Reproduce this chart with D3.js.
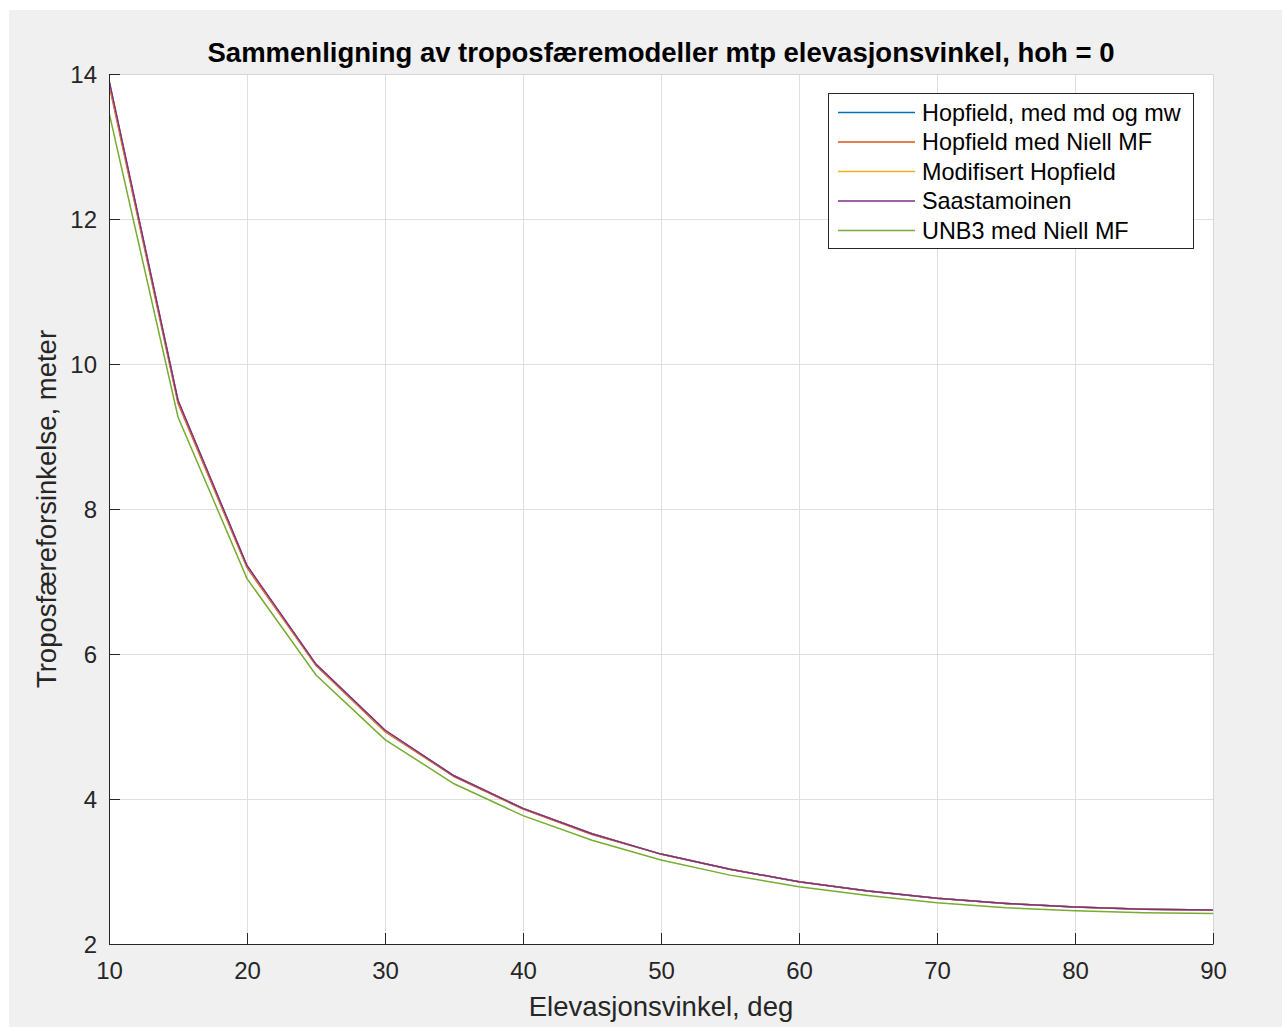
<!DOCTYPE html>
<html>
<head>
<meta charset="utf-8">
<script src="https://cdn.jsdelivr.net/npm/d3@7"></script>
<style>
    body { margin: 0; background: #ffffff; }
    svg { display: block; font-family: "Liberation Sans", Arial, Helvetica, sans-serif; }
</style>
</head>
<body>
<div id="chart"></div>
<script>
let width = 1282;
let height = 1027;

let margin = { left: 109, right: 1213, top: 74, bottom: 944 };

// elevation angles, deg
let elevation = [10, 15, 20, 25, 30, 35, 40, 45, 50, 55, 60, 65, 70, 75, 80, 85, 90];

// delays, meter
let hopfieldMdMw = [13.90, 9.49, 7.21, 5.85, 4.94, 4.32, 3.87, 3.52, 3.24, 3.03, 2.86, 2.73, 2.63, 2.56, 2.51, 2.48, 2.47];
let hopfieldNiell = [13.86, 9.46, 7.19, 5.84, 4.93, 4.31, 3.86, 3.51, 3.24, 3.03, 2.86, 2.73, 2.63, 2.56, 2.51, 2.48, 2.47];
let modHopfield = [13.90, 9.49, 7.21, 5.85, 4.94, 4.32, 3.87, 3.52, 3.24, 3.03, 2.86, 2.73, 2.63, 2.56, 2.51, 2.48, 2.47];
let saastamoinen = [13.92, 9.50, 7.22, 5.86, 4.95, 4.32, 3.87, 3.52, 3.24, 3.03, 2.86, 2.73, 2.63, 2.56, 2.51, 2.48, 2.47];
let unb3Niell = [13.47, 9.27, 7.04, 5.71, 4.82, 4.21, 3.77, 3.43, 3.16, 2.95, 2.79, 2.67, 2.57, 2.50, 2.46, 2.43, 2.42];

let seriesNames = ["Hopfield, med md og mw", "Hopfield med Niell MF", "Modifisert Hopfield", "Saastamoinen", "UNB3 med Niell MF"];
let seriesValues = [hopfieldMdMw, hopfieldNiell, modHopfield, saastamoinen, unb3Niell];
let seriesColors = ["#0072BD", "#D95319", "#EDB120", "#7E2F8E", "#77AC30"];

let xTicks = [10, 20, 30, 40, 50, 60, 70, 80, 90];
let yTicks = [2, 4, 6, 8, 10, 12, 14];

let svg = d3.select("#chart")
    .append("svg")
    .attr("width", width)
    .attr("height", height);

// figure background
svg.append("rect")
    .attr("x", 9)
    .attr("y", 10)
    .attr("width", width - 9)
    .attr("height", height - 10)
    .attr("fill", "#f0f0f0");

let x = d3.scaleLinear().domain([10, 90]).range([margin.left, margin.right]);
let y = d3.scaleLinear().domain([2, 14]).range([margin.bottom, margin.top]);

// plot area
svg.append("rect")
    .attr("x", margin.left)
    .attr("y", margin.top)
    .attr("width", margin.right - margin.left)
    .attr("height", margin.bottom - margin.top)
    .attr("fill", "#ffffff");

// grid
svg.append("g")
    .attr("transform", "translate(0," + margin.bottom + ")")
    .call(d3.axisBottom(x).tickValues(xTicks).tickSize(-(margin.bottom - margin.top)).tickFormat(""))
    .call(g => g.select(".domain").remove())
    .call(g => g.selectAll("line").attr("stroke", "#dfdfdf"));

svg.append("g")
    .attr("transform", "translate(" + margin.left + ",0)")
    .call(d3.axisLeft(y).tickValues(yTicks).tickSize(-(margin.right - margin.left)).tickFormat(""))
    .call(g => g.select(".domain").remove())
    .call(g => g.selectAll("line").attr("stroke", "#dfdfdf"));

// top and right box edges
svg.append("path")
    .attr("d", "M" + margin.left + "," + (margin.top + 0.5) + "H" + (margin.right + 0.5) + "V" + margin.bottom)
    .attr("fill", "none")
    .attr("stroke", "#d6d6d6");

svg.append("clipPath")
    .attr("id", "clip")
    .append("rect")
    .attr("x", margin.left)
    .attr("y", margin.top)
    .attr("width", margin.right - margin.left)
    .attr("height", margin.bottom - margin.top);

let line = d3.line()
    .x((d, i) => x(elevation[i]))
    .y(d => y(d));

let lines = svg.append("g").attr("clip-path", "url(#clip)");

seriesValues.forEach(function (values, i) {
    lines.append("path")
        .datum(values)
        .attr("d", line)
        .attr("fill", "none")
        .attr("stroke", seriesColors[i])
        .attr("stroke-width", 1.5);
});

// axes
let xAxis = svg.append("g")
    .attr("transform", "translate(0," + margin.bottom + ")")
    .call(d3.axisBottom(x).tickValues(xTicks).tickSize(-11).tickPadding(18).tickSizeOuter(0));

let yAxis = svg.append("g")
    .attr("transform", "translate(" + margin.left + ",0)")
    .call(d3.axisLeft(y).tickValues(yTicks).tickSize(-11).tickPadding(12).tickSizeOuter(0));

[xAxis, yAxis].forEach(function (a) {
    a.select(".domain").attr("stroke", "#262626");
    a.selectAll(".tick line").attr("stroke", "#262626");
    a.selectAll(".tick text")
        .attr("fill", "#262626")
        .style("font-size", "24px");
});

xAxis.selectAll(".tick text").attr("dy", "0.71em");
yAxis.selectAll(".tick text").attr("dy", "0.35em");

// title and labels
svg.append("text")
    .attr("x", (margin.left + margin.right) / 2)
    .attr("y", 62)
    .attr("text-anchor", "middle")
    .style("font-size", "27.5px")
    .style("font-weight", "bold")
    .attr("fill", "#000000")
    .text("Sammenligning av troposfæremodeller mtp elevasjonsvinkel, hoh = 0");

svg.append("text")
    .attr("x", (margin.left + margin.right) / 2)
    .attr("y", 1016)
    .attr("text-anchor", "middle")
    .style("font-size", "27.5px")
    .attr("fill", "#262626")
    .text("Elevasjonsvinkel, deg");

svg.append("text")
    .attr("transform", "translate(56," + ((margin.top + margin.bottom) / 2) + ") rotate(-90)")
    .attr("text-anchor", "middle")
    .style("font-size", "27.5px")
    .attr("fill", "#262626")
    .text("Troposfæreforsinkelse, meter");

// legend
let legend = svg.append("g").attr("transform", "translate(828,93)");

legend.append("rect")
    .attr("x", 0.5)
    .attr("y", 0.5)
    .attr("width", 365)
    .attr("height", 155)
    .attr("fill", "#ffffff")
    .attr("stroke", "#262626");

seriesNames.forEach(function (name, i) {
    let rowY = 19.5 + i * 29.5;
    legend.append("line")
        .attr("x1", 10)
        .attr("x2", 87)
        .attr("y1", rowY)
        .attr("y2", rowY)
        .attr("stroke", seriesColors[i])
        .attr("stroke-width", 1.5);
    legend.append("text")
        .attr("x", 94)
        .attr("y", rowY)
        .attr("dy", "0.35em")
        .style("font-size", "23.4px")
        .attr("fill", "#000000")
        .text(name);
});
</script>
</body>
</html>
